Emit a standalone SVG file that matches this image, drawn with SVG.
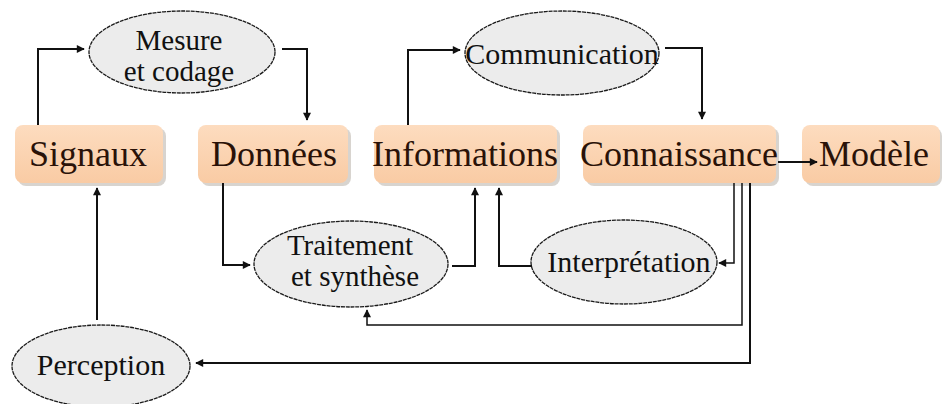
<svg xmlns="http://www.w3.org/2000/svg" width="942" height="404" viewBox="0 0 942 404">
<style>
.box{fill:url(#peach);}
.shadow{fill:#b8b0a8;opacity:0.55;}
.ell{fill:#ececec;stroke:#1a1a1a;stroke-width:1.3;stroke-dasharray:4 0.8;}
.bt{font-family:"Liberation Serif","Times New Roman",serif;font-size:36px;fill:#2a1208;text-anchor:middle;}
.et{font-family:"Liberation Serif","Times New Roman",serif;font-size:29px;fill:#111;text-anchor:middle;}
.big{font-size:30px;}
.c{fill:none;stroke:#111;stroke-width:2;marker-end:url(#ah);}
.thin{stroke-width:1.5;}
</style>
<defs>
<linearGradient id="peach" x1="0" y1="0" x2="0" y2="1">
<stop offset="0" stop-color="#fddcbf"/>
<stop offset="1" stop-color="#f9cba4"/>
</linearGradient>
<marker id="ah" viewBox="0 0 10 10" refX="9" refY="5" markerWidth="9" markerHeight="8" markerUnits="userSpaceOnUse" orient="auto">
<path d="M0,0 L10,5 L0,10 z" fill="#111"/>
</marker>
</defs>
<rect width="942" height="404" fill="#fff"/>

<g id="signaux">
<rect class="shadow" x="18" y="128" width="148" height="58" rx="8"/>
<rect class="box" x="15" y="125" width="148" height="58" rx="8"/>
<text class="bt" x="88" y="166">Signaux</text>
</g>
<g id="donnees">
<rect class="shadow" x="201" y="128" width="150" height="58" rx="8"/>
<rect class="box" x="198" y="125" width="150" height="58" rx="8"/>
<text class="bt" x="274" y="166">Données</text>
</g>
<g id="informations">
<rect class="shadow" x="377" y="128" width="183" height="58" rx="8"/>
<rect class="box" x="374" y="125" width="183" height="58" rx="8"/>
<text class="bt" x="465" y="166">Informations</text>
</g>
<g id="connaissance">
<rect class="shadow" x="586" y="128" width="193" height="58" rx="8"/>
<rect class="box" x="583" y="125" width="193" height="58" rx="8"/>
<text class="bt" x="679" y="166">Connaissance</text>
</g>
<g id="modele">
<rect class="shadow" x="805" y="128" width="137" height="58" rx="8"/>
<rect class="box" x="802" y="125" width="138" height="58" rx="8"/>
<text class="bt" x="874" y="166">Modèle</text>
</g>

<g id="mesure">
<ellipse class="ell" cx="182" cy="52" rx="93" ry="41"/>
<text class="et" x="179" y="50">Mesure</text>
<text class="et" x="179" y="81">et codage</text>
</g>
<g id="communication">
<ellipse class="ell" cx="562" cy="53" rx="97" ry="42"/>
<text class="et big" x="562" y="64">Communication</text>
</g>
<g id="traitement">
<ellipse class="ell" cx="351" cy="264" rx="97" ry="43"/>
<text class="et" x="350" y="255">Traitement</text>
<text class="et" x="355" y="286">et synthèse</text>
</g>
<g id="interpretation">
<ellipse class="ell" cx="624" cy="262" rx="93" ry="42"/>
<text class="et big" x="629" y="272">Interprétation</text>
</g>
<g id="perception">
<ellipse class="ell" cx="101" cy="366" rx="89" ry="41"/>
<text class="et big" x="101" y="375">Perception</text>
</g>

<g id="connectors">
<path class="c" d="M38,125 V49 H84"/>
<path class="c" d="M282,49 H307 V120"/>
<path class="c" d="M408,125 V50 H460"/>
<path class="c" d="M665,48 H702 V119"/>
<path class="c" d="M778,162 H817"/>
<path class="c" d="M223,183 V265 H250"/>
<path class="c" d="M452,266 H475 V188"/>
<path class="c" d="M532,266 H499 V188"/>
<path class="c thin" d="M734,183 V263 H719"/>
<path class="c thin" d="M742,183 V325 H367 V310"/>
<path class="c" d="M750,183 V363 H196"/>
<path class="c" d="M97,320 V188"/>
</g>
</svg>
